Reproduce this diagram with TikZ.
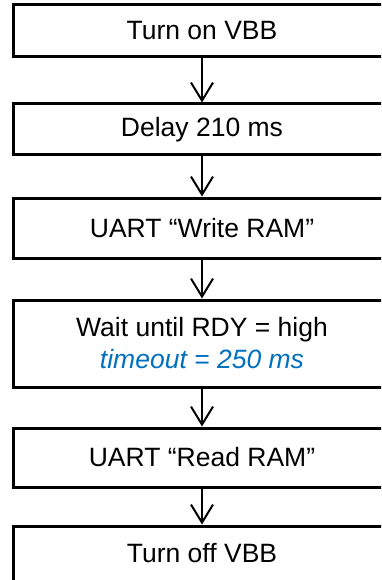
\documentclass[tikz,border=0pt]{standalone}
\usepackage{fontspec}
\setmainfont{Liberation Sans}
\usetikzlibrary{arrows.meta}
\definecolor{noteblue}{RGB}{0,112,192}
\tikzset{
  stepbox/.style={draw=black, line width=3pt, fill=white, rectangle,
    minimum width=378pt, inner sep=0pt, align=center,
    font=\fontsize{26.5}{32}\selectfont},
  flow/.style={draw=black, line width=2pt,
    -{Straight Barb[length=18pt,width=22pt,line width=2pt]}},
}
\begin{document}
\begin{tikzpicture}[x=1pt,y=1pt]
  \useasboundingbox (0,0) rectangle (381,-580);
  \clip (0,0) rectangle (381,-580);
  \fill[white] (0,0) rectangle (381,-580);
  % process steps, top to bottom
  \node[stepbox, minimum height=52.5pt] (s1) at (202,-30.75) {Turn on VBB};
  \node[stepbox, minimum height=51pt]   (s2) at (202,-129.5) {Delay 210 ms};
  \node[stepbox, minimum height=60pt]   (s3) at (202,-228)   {UART “Write RAM”};
  \node[stepbox, minimum height=87pt]   (s4) at (202,-343.5)
    {Wait until RDY = high\\{\color{noteblue}\itshape timeout = 250 ms}};
  \node[stepbox, minimum height=59pt]   (s5) at (202,-457.5) {UART “Read RAM”};
  \node[stepbox, minimum height=55pt]   (s6) at (202,-553.5) {Turn off VBB};
  % connectors
  \draw[flow] (s1.south) -- (s2.north);
  \draw[flow] (s2.south) -- (s3.north);
  \draw[flow] (s3.south) -- (s4.north);
  \draw[flow] (s4.south) -- (s5.north);
  \draw[flow] (s5.south) -- (s6.north);
\end{tikzpicture}
\end{document}
